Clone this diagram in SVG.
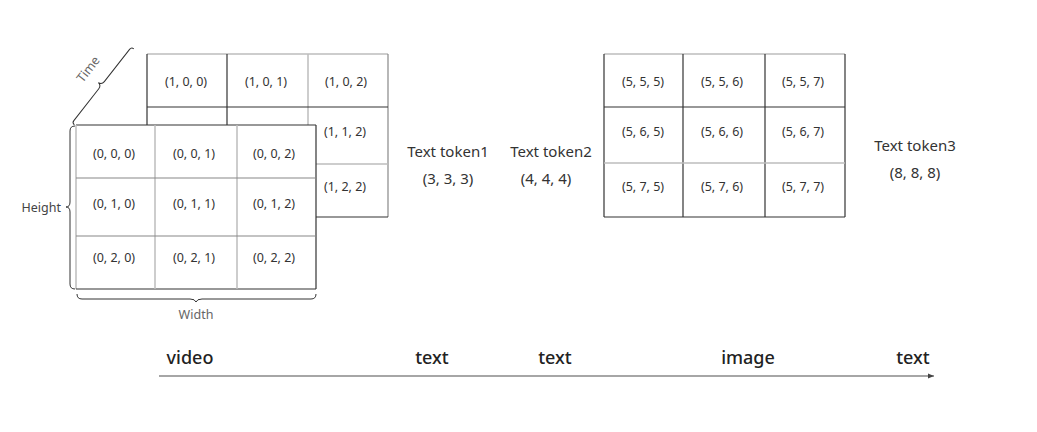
<svg xmlns="http://www.w3.org/2000/svg" width="1037" height="432" viewBox="0 0 1037 432">
<style>
.cell{font-family:"Noto Sans","Open Sans",sans-serif;font-size:12.5px;fill:#333;text-anchor:middle}
.tok{font-family:"Noto Sans","Open Sans",sans-serif;font-size:15px;fill:#333;text-anchor:middle}
.lbl{font-family:"Noto Sans","Open Sans",sans-serif;font-size:18px;fill:#222;text-anchor:middle;font-weight:500}
.axis{font-family:"Noto Sans","Open Sans",sans-serif;font-size:12.5px;fill:#666}
.dk{stroke:#333;stroke-width:1.2;fill:none}
.gr{stroke:#bdbdbd;stroke-width:1.5;fill:none}
.md{stroke:#888;stroke-width:1.2;fill:none}
.brace{stroke:#333;stroke-width:1;fill:none}
</style>
<defs>
<marker id="arr" markerWidth="8" markerHeight="8" refX="6" refY="4" orient="auto" markerUnits="userSpaceOnUse">
<path d="M0,1.5 L6,4 L0,6.5 Z" fill="#444"/>
</marker>
</defs>
<rect width="1037" height="432" fill="#fff"/>

<g id="video-back-grid">
<rect x="147" y="54" width="241" height="163" fill="#fff" stroke="none"/>
<line class="gr" x1="147" y1="54" x2="388" y2="54"/>
<line class="dk" x1="147" y1="54" x2="147" y2="217"/>
<line class="md" x1="388" y1="54" x2="388" y2="217"/>
<line class="dk" x1="147" y1="217" x2="388" y2="217"/>
<line class="dk" x1="227" y1="54" x2="227" y2="217"/>
<line class="gr" x1="308" y1="54" x2="308" y2="217"/>
<line class="dk" x1="147" y1="107" x2="388" y2="107"/>
<line class="gr" x1="147" y1="164" x2="388" y2="164"/>
<text class="cell" x="186" y="86">(1, 0, 0)</text>
<text class="cell" x="266" y="86">(1, 0, 1)</text>
<text class="cell" x="346" y="86">(1, 0, 2)</text>
<text class="cell" x="345" y="136">(1, 1, 2)</text>
<text class="cell" x="345" y="191">(1, 2, 2)</text>
</g>

<g id="video-front-grid">
<rect x="76" y="125" width="240" height="164" fill="#fff" stroke="none"/>
<line class="dk" x1="76" y1="125" x2="316" y2="125"/>
<line class="gr" x1="76" y1="125" x2="76" y2="289"/>
<line class="dk" x1="316" y1="125" x2="316" y2="289"/>
<line class="dk" x1="76" y1="289" x2="316" y2="289"/>
<line class="gr" x1="155" y1="125" x2="155" y2="289"/>
<line class="gr" x1="237" y1="125" x2="237" y2="289"/>
<line class="md" x1="76" y1="178" x2="316" y2="178"/>
<line class="md" x1="76" y1="236" x2="316" y2="236"/>
<text class="cell" x="114" y="158">(0, 0, 0)</text>
<text class="cell" x="194" y="158">(0, 0, 1)</text>
<text class="cell" x="274" y="158">(0, 0, 2)</text>
<text class="cell" x="114" y="208">(0, 1, 0)</text>
<text class="cell" x="194" y="208">(0, 1, 1)</text>
<text class="cell" x="274" y="208">(0, 1, 2)</text>
<text class="cell" x="114" y="262">(0, 2, 0)</text>
<text class="cell" x="194" y="262">(0, 2, 1)</text>
<text class="cell" x="274" y="262">(0, 2, 2)</text>
</g>

<g id="time-axis">
<path class="brace" transform="translate(72,123) rotate(-52)" d="M0,3 Q0,0 3,0 L43.5,0 Q47.5,0 48,-4 Q48.5,0 52.5,0 L93.5,0 Q96.5,0 96.5,3"/>
<text class="axis" text-anchor="middle" dominant-baseline="central" transform="translate(88,69) rotate(-52)">Time</text>
</g>

<g id="height-axis">
<path class="brace" d="M75,126 Q70,126 70,131 L70,202 Q70,207 66,207 Q70,207 70,212 L70,284 Q70,289 75,289"/>
<text class="axis" x="61" y="212" text-anchor="end" fill="#444" style="fill:#444">Height</text>
</g>

<g id="width-axis">
<path class="brace" d="M77,294 Q77,299 82,299 L190,299 Q195,299 196,302 Q197,299 202,299 L311,299 Q316,299 316,294"/>
<text class="axis" x="196" y="319" text-anchor="middle">Width</text>
</g>

<g id="text-token1">
<text class="tok" x="448" y="157">Text token1</text>
<text class="tok" x="448" y="184">(3, 3, 3)</text>
</g>

<g id="text-token2">
<text class="tok" x="551" y="157">Text token2</text>
<text class="tok" x="546" y="184">(4, 4, 4)</text>
</g>

<g id="image-grid">
<rect x="604" y="54" width="241" height="163" fill="#fff" stroke="none"/>
<line class="gr" x1="604" y1="54" x2="845" y2="54"/>
<line class="dk" x1="604" y1="54" x2="604" y2="217"/>
<line class="dk" x1="845" y1="54" x2="845" y2="217"/>
<line class="dk" x1="604" y1="217" x2="845" y2="217"/>
<line class="dk" x1="683" y1="54" x2="683" y2="217"/>
<line class="dk" x1="765" y1="54" x2="765" y2="217"/>
<line class="dk" x1="604" y1="107" x2="845" y2="107"/>
<line class="gr" x1="604" y1="163" x2="845" y2="163"/>
<text class="cell" x="643" y="86">(5, 5, 5)</text>
<text class="cell" x="722" y="86">(5, 5, 6)</text>
<text class="cell" x="803" y="86">(5, 5, 7)</text>
<text class="cell" x="643" y="136">(5, 6, 5)</text>
<text class="cell" x="722" y="136">(5, 6, 6)</text>
<text class="cell" x="803" y="136">(5, 6, 7)</text>
<text class="cell" x="643" y="191">(5, 7, 5)</text>
<text class="cell" x="722" y="191">(5, 7, 6)</text>
<text class="cell" x="803" y="191">(5, 7, 7)</text>
</g>

<g id="text-token3">
<text class="tok" x="915" y="151">Text token3</text>
<text class="tok" x="915" y="178">(8, 8, 8)</text>
</g>

<g id="sequence-labels">
<text class="lbl" x="190" y="364">video</text>
<text class="lbl" x="432" y="364">text</text>
<text class="lbl" x="555" y="364">text</text>
<text class="lbl" x="748" y="364">image</text>
<text class="lbl" x="913" y="364">text</text>
</g>

<g id="connectors">
<line x1="159" y1="376" x2="934" y2="376" stroke="#888" stroke-width="1.5" marker-end="url(#arr)"/>
</g>
</svg>
